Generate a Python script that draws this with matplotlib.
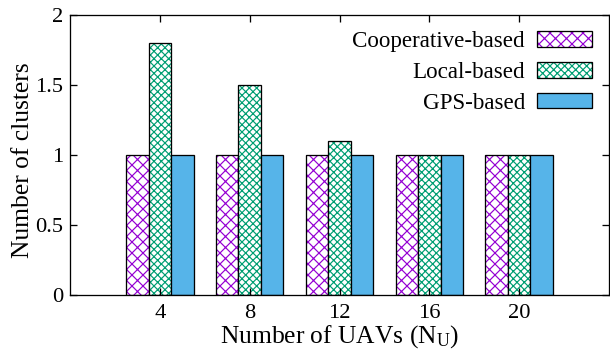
import matplotlib
matplotlib.use("Agg")
import matplotlib.pyplot as plt
import numpy as np
from matplotlib.patches import Patch
from matplotlib.legend_handler import HandlerTuple

# ---- data ----
n_uavs = [4, 8, 12, 16, 20]
cooperative = [1, 1, 1, 1, 1]
local = [1.8, 1.5, 1.1, 1, 1]
gps = [1, 1, 1, 1, 1]
series_labels = ["Cooperative-based", "Local-based", "GPS-based"]
y_ticks = [0, 0.5, 1, 1.5, 2]
y_tick_labels = ["0", "0.5", "1", "1.5", "2"]

DPI = 132
PX = 72.0 / DPI  # points per pixel

plt.rcParams['font.family'] = ['Liberation Serif', 'DejaVu Serif']
plt.rcParams['mathtext.fontset'] = 'custom'
plt.rcParams['mathtext.rm'] = 'Liberation Serif'
plt.rcParams['mathtext.it'] = 'Liberation Serif:italic'
plt.rcParams['hatch.linewidth'] = 1.0 * PX * 1.2

fig = plt.figure(figsize=(610 / DPI, 354 / DPI), dpi=DPI)
AX_L, AX_R, AX_T, AX_B = 70, 609, 15, 295
ax = fig.add_axes([AX_L / 610, 1 - AX_B / 354, (AX_R - AX_L) / 610, (AX_B - AX_T) / 354])

x = np.array(n_uavs, dtype=float)
w = 1.0
purple = '#9400D3'
green = '#009E73'
blue = '#56B4E9'
hatch_c = 'xxxx'
hatch_l = 'xxxxxx'

lw = 1.0 * PX * 1.3
ax.bar(x - w, cooperative, w, color='white', edgecolor=purple, hatch=hatch_c, linewidth=0)
ax.bar(x - w, cooperative, w, fill=False, edgecolor='black', linewidth=lw)
ax.bar(x, local, w, color='white', edgecolor=green, hatch=hatch_l, linewidth=0)
ax.bar(x, local, w, fill=False, edgecolor='black', linewidth=lw)
ax.bar(x + w, gps, w, color=blue, edgecolor='black', linewidth=lw)

ax.set_xlim(0, 24)
ax.set_ylim(0, 2)
ax.set_xticks(n_uavs)
ax.set_xticklabels([str(v) for v in n_uavs])
ax.set_yticks(y_ticks)
ax.set_yticklabels(y_tick_labels)

fs_tick = 22.5 * PX
fs_label = 25.5 * PX
ax.tick_params(direction='in', top=True, right=True, length=7 * PX,
               width=lw, labelsize=fs_tick, pad=7 * PX)
ax.tick_params(axis='x', pad=9 * PX)
for s in ax.spines.values():
    s.set_linewidth(lw)

ax.set_xlabel('Number of UAVs (N$_{\\mathrm{U}}$)', fontsize=fs_label, labelpad=0)
ax.set_ylabel('Number of clusters', fontsize=fs_label)
ax.yaxis.set_label_coords((34 - AX_L) / (AX_R - AX_L), 1 - (160 - AX_T) / (AX_B - AX_T))

outline = lambda: Patch(fill=False, edgecolor='black', linewidth=lw)
handles = [
    (Patch(facecolor='white', edgecolor=purple, hatch=hatch_c, linewidth=0), outline()),
    (Patch(facecolor='white', edgecolor=green, hatch=hatch_l, linewidth=0), outline()),
    Patch(facecolor=blue, edgecolor='black', linewidth=lw),
]

fs_leg_px = 23.0
leg = ax.legend(handles, series_labels, loc='upper right', frameon=False,
                markerfirst=False, fontsize=fs_leg_px * PX,
                handler_map={tuple: HandlerTuple(ndivide=1, pad=0)},
                handlelength=55 / fs_leg_px, handleheight=15 / fs_leg_px,
                labelspacing=0.43, handletextpad=12 / fs_leg_px,
                borderaxespad=0, borderpad=0,
                bbox_to_anchor=((592 - AX_L) / (AX_R - AX_L),
                                1 - (31 - AX_T) / (AX_B - AX_T)))
for t in leg.get_texts():
    t.set_ha('right')

fig.savefig('out.png', dpi=DPI)
